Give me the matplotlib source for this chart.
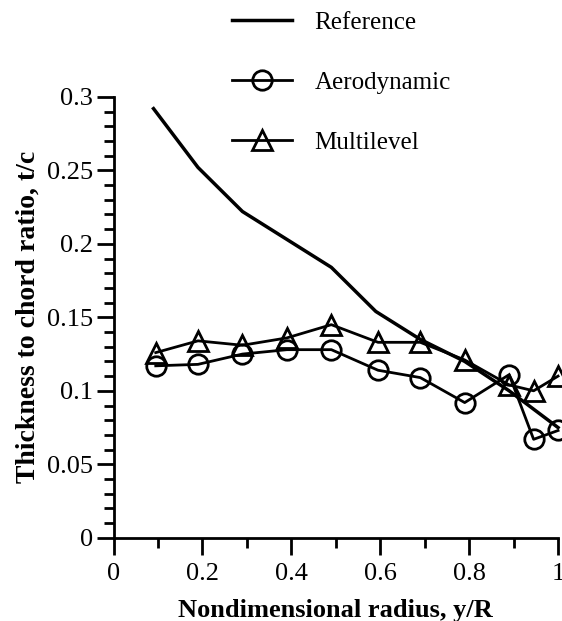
import matplotlib
matplotlib.use("Agg")
import matplotlib.pyplot as plt

plt.rcParams['font.family'] = ['Liberation Serif', 'DejaVu Serif']

# data
ref_x = [0.09, 0.19, 0.29, 0.39, 0.49, 0.59, 0.69, 0.79, 0.89, 1.0]
ref_y = [0.292, 0.252, 0.222, 0.203, 0.184, 0.154, 0.135, 0.120, 0.100, 0.075]

pts_x = [0.095, 0.19, 0.29, 0.39, 0.49, 0.595, 0.69, 0.79, 0.89, 0.945, 1.0]
aero_y = [0.117, 0.118, 0.125, 0.128, 0.128, 0.114, 0.109, 0.092, 0.111, 0.067, 0.073]
multi_y = [0.126, 0.134, 0.131, 0.136, 0.145, 0.133, 0.133, 0.121, 0.104, 0.100, 0.110]

xticks = [0, 0.2, 0.4, 0.6, 0.8, 1.0]
xticklabels = ['0', '0.2', '0.4', '0.6', '0.8', '1']
yticks = [0, 0.05, 0.1, 0.15, 0.2, 0.25, 0.3]
yticklabels = ['0', '0.05', '0.1', '0.15', '0.2', '0.25', '0.3']

fig = plt.figure(figsize=(5.62, 6.21), dpi=100)
ax = fig.add_axes([0.202, 0.134, 0.791, 0.710])

ax.plot(ref_x, ref_y, color='black', lw=2.5, label='Reference', clip_on=False)
ax.plot(pts_x, aero_y, color='black', lw=2, marker='o', ms=14, mfc='none',
        mew=2, label='Aerodynamic', clip_on=False)
ax.plot(pts_x, multi_y, color='black', lw=2, marker='^', ms=14, mfc='none',
        mew=2, label='Multilevel', clip_on=False)

ax.set_xlim(0, 1)
ax.set_ylim(0, 0.3)
ax.set_xticks(xticks)
ax.set_xticklabels(xticklabels)
ax.set_xticks([i / 10 for i in range(1, 10, 2)], minor=True)
ax.set_yticks(yticks)
ax.set_yticklabels(yticklabels)
ax.set_yticks([i / 100 for i in range(31) if i % 5 != 0], minor=True)

for s in ['top', 'right']:
    ax.spines[s].set_visible(False)
for s in ['left', 'bottom']:
    ax.spines[s].set_linewidth(2)

ax.tick_params(which='major', direction='out', length=12, width=2, labelsize=19)
ax.tick_params(which='minor', direction='out', length=7, width=2)
ax.tick_params(axis='x', which='major', pad=6)
ax.tick_params(axis='y', which='major', pad=3)

ax.set_xlabel('Nondimensional radius, y/R', fontsize=19, fontweight='bold', labelpad=10)
ax.set_ylabel('Thickness to chord ratio, t/c', fontsize=20, fontweight='bold', labelpad=4)

fig.legend(loc='upper left', bbox_to_anchor=(0.373, 1.018), frameon=False,
           fontsize=18, handlelength=2.4, handletextpad=0.9, labelspacing=1.5)

fig.savefig('out.png', dpi=100)
